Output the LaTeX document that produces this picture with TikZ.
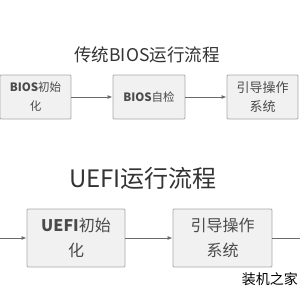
\documentclass[tikz,border=0pt]{standalone}
\usepackage{fontspec}
\setmainfont{Noto Sans CJK SC}
\usepackage{tikz}
\usetikzlibrary{arrows.meta,positioning}
\definecolor{bxgray}{HTML}{A8A8A8}
\definecolor{bxfill}{HTML}{F1F1F1}
\definecolor{txgray}{HTML}{4A4A4A}
\definecolor{lngray}{HTML}{6A6A6A}

\begin{document}
\begin{tikzpicture}[x=1pt, y=-1pt,
  title/.style={text=black!80, inner sep=0pt},
  stepbox/.style={draw=bxgray, line width=0.9pt, fill=bxfill, rounded corners=1pt,
                  align=center, text=txgray, inner sep=0pt},
  flow/.style={-{Latex[length=5pt, width=4pt]}, draw=lngray, line width=0.9pt},
  plain/.style={draw=lngray, line width=0.9pt},
]
  \useasboundingbox[fill=white] (0,0) rectangle (300,300);

  % BIOS flow ---------------------------------------------------------------
  \node[title, font=\fontsize{17.5}{20}\selectfont] (btitle) at (147,55) {传统BIOS运行流程};
  \node[stepbox, minimum width=71pt, minimum height=44pt,
        font=\fontsize{11.5}{19}\selectfont] (binit) at (35.5,97) {\textbf{BIOS}初始\\化};
  \node[stepbox, minimum width=72pt, minimum height=44pt,
        font=\fontsize{11.5}{19}\selectfont] (bpost) at (149,97) {\textbf{BIOS}自检};
  \node[stepbox, minimum width=71pt, minimum height=44pt,
        font=\fontsize{13}{19}\selectfont] (bboot) at (262.5,97) {引导操作\\系统};
  \draw[flow] (binit) -- (bpost);
  \draw[flow] (bpost) -- (bboot);

  % UEFI flow ---------------------------------------------------------------
  \node[title, font=\fontsize{24}{26}\selectfont] (utitle) at (143,178) {UEFI运行流程};
  \node[stepbox, minimum width=98pt, minimum height=58pt,
        font=\fontsize{16}{25}\selectfont] (uinit) at (76,238) {\textbf{UEFI}初始\\化};
  \node[stepbox, minimum width=99pt, minimum height=58pt,
        font=\fontsize{16}{25}\selectfont] (uboot) at (222.5,238) {引导操作\\系统};
  \coordinate (uin) at (0,238);
  \coordinate (uout) at (300,238);
  \draw[flow] (uin) -- (uinit);
  \draw[flow] (uinit) -- (uboot);
  \draw[plain] (uboot) -- (uout);

  % watermark
  \node[anchor=east, inner sep=0pt, font=\fontsize{14}{14}\selectfont] (mark) at (298,279) {装机之家};
\end{tikzpicture}
\end{document}
